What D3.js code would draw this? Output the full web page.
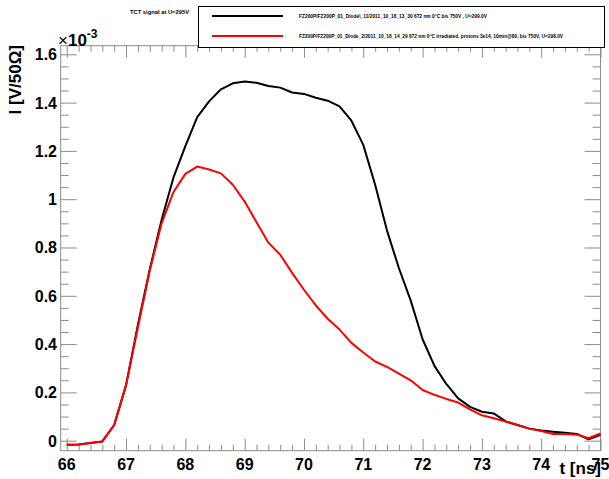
<!DOCTYPE html>
<html>
<head>
<meta charset="utf-8">
<script src="https://cdn.jsdelivr.net/npm/d3@7"></script>
<style>
  body { margin: 0; background: #fff; }
  text { font-family: "Liberation Sans", Arial, sans-serif; }
</style>
</head>
<body>
<svg id="chart" width="609" height="479"></svg>
<script>
// time axis [ns], one sample every 0.2 ns
const times = [66.0, 66.2, 66.4, 66.6, 66.8, 67.0, 67.2, 67.4, 67.6, 67.8,
  68.0, 68.2, 68.4, 68.6, 68.8, 69.0, 69.2, 69.4, 69.6, 69.8,
  70.0, 70.2, 70.4, 70.6, 70.8, 71.0, 71.2, 71.4, 71.6, 71.8,
  72.0, 72.2, 72.4, 72.6, 72.8, 73.0, 73.2, 73.4, 73.6, 73.8,
  74.0, 74.2, 74.4, 74.6, 74.8, 75.0];

// signal in units of 1e-3 V/50Ohm
const diode11 = [-0.017, -0.016, -0.010, -0.003, 0.065, 0.230, 0.480, 0.710, 0.915, 1.090,
  1.220, 1.340, 1.405, 1.455, 1.480, 1.487, 1.482, 1.469, 1.462, 1.442,
  1.436, 1.420, 1.408, 1.384, 1.325, 1.225, 1.060, 0.870, 0.715, 0.580,
  0.420, 0.310, 0.235, 0.175, 0.140, 0.120, 0.113, 0.080, 0.065, 0.050,
  0.042, 0.037, 0.033, 0.028, 0.006, 0.024];

const diode2 = [-0.017, -0.016, -0.010, -0.003, 0.065, 0.230, 0.470, 0.705, 0.900, 1.030,
  1.105, 1.135, 1.123, 1.107, 1.060, 0.990, 0.905, 0.820, 0.770, 0.695,
  0.625, 0.560, 0.505, 0.460, 0.405, 0.365, 0.328, 0.306, 0.278, 0.250,
  0.210, 0.190, 0.173, 0.158, 0.130, 0.105, 0.093, 0.079, 0.065, 0.050,
  0.040, 0.028, 0.028, 0.025, 0.010, 0.030];

const xTicks = [66, 67, 68, 69, 70, 71, 72, 73, 74, 75];
const yTicks = [0, 0.2, 0.4, 0.6, 0.8, 1, 1.2, 1.4, 1.6];

const series = [
  { name: "FZ200P/FZ200P_01_Diode\\_11/2011_10_18_13_30 672 nm 0\u00B0C bis 750V , U=299.0V",
    values: diode11, color: "#000" },
  { name: "FZ200P/FZ200P_01_Diode_2/2011_10_18_14_29 672 nm 0\u00B0C irradiated, protons 3e14, 10min@80, bis 750V, U=298.0V",
    values: diode2, color: "#ff0000" }
];

const frame = { left: 60.7, right: 600.5, top: 45.7, bottom: 450.7 };
const svg = d3.select("#chart");

const x = d3.scaleLinear().domain([65.898, 75.0]).range([frame.left, frame.right]);
const y = d3.scaleLinear().domain([-0.0414, 1.6356]).range([frame.bottom, frame.top]);

const axisColor = "#8c8c8c";
const fw = frame.right - frame.left, fh = frame.bottom - frame.top;
const xMajor = 12, yMajor = 16;

// frame
svg.append("rect")
  .attr("x", frame.left).attr("y", frame.top)
  .attr("width", fw).attr("height", fh)
  .attr("fill", "none").attr("stroke", axisColor).attr("stroke-width", 1);

const xMinor = d3.range(66, 75.001, 0.2).map(v => +v.toFixed(1)).filter(v => !xTicks.includes(v));
const yMinor = d3.range(0, 1.6001, 0.05).map(v => +v.toFixed(2)).filter(v => !yTicks.some(t => Math.abs(t - v) < 1e-6));

function tickAxis(axis, ticks, size, transform) {
  const g = svg.append("g").attr("transform", transform)
    .call(axis.tickValues(ticks).tickSize(size).tickFormat(""));
  g.select(".domain").remove();
  g.selectAll("line").attr("stroke", axisColor);
  return g;
}

// bottom / top ticks (pointing inward)
tickAxis(d3.axisTop(x), xTicks, xMajor, `translate(0,${frame.bottom})`);
tickAxis(d3.axisTop(x), xMinor, xMajor / 2, `translate(0,${frame.bottom})`);
tickAxis(d3.axisBottom(x), xTicks, xMajor, `translate(0,${frame.top})`);
tickAxis(d3.axisBottom(x), xMinor, xMajor / 2, `translate(0,${frame.top})`);
// left / right ticks
tickAxis(d3.axisRight(y), yTicks, yMajor, `translate(${frame.left},0)`);
tickAxis(d3.axisRight(y), yMinor, yMajor / 2, `translate(${frame.left},0)`);
tickAxis(d3.axisLeft(y), yTicks, yMajor, `translate(${frame.right},0)`);
tickAxis(d3.axisLeft(y), yMinor, yMajor / 2, `translate(${frame.right},0)`);

// tick labels
svg.append("g").selectAll("text").data(xTicks).join("text")
  .attr("x", d => x(d)).attr("y", 470)
  .attr("text-anchor", "middle")
  .attr("font-size", 16).attr("font-weight", "bold")
  .text(d => d);

svg.append("g").selectAll("text").data(yTicks).join("text")
  .attr("x", 57).attr("y", d => y(d) + 6)
  .attr("text-anchor", "end")
  .attr("font-size", 16).attr("font-weight", "bold")
  .text(d => d);

// exponent
const expo = svg.append("text").attr("x", 58).attr("y", 46)
  .attr("font-size", 17).attr("font-weight", "normal");
expo.append("tspan").text("\u00D7");
expo.append("tspan").attr("font-weight", "bold").text("10");
expo.append("tspan").attr("font-size", 12).attr("font-weight", "bold").attr("dy", -8).text("-3");

// axis titles
svg.append("text")
  .attr("transform", "translate(21,45) rotate(-90)")
  .attr("text-anchor", "end")
  .attr("font-size", 17).attr("font-weight", "bold")
  .text("I [V/50\u03A9]");

svg.append("text")
  .attr("x", 601).attr("y", 474)
  .attr("text-anchor", "end")
  .attr("font-size", 17).attr("font-weight", "bold")
  .text("t [ns]");

// curves
const line = d3.line()
  .x((d, i) => x(times[i]))
  .y(d => y(d));

svg.append("g").selectAll("path").data(series).join("path")
  .attr("d", d => line(d.values))
  .attr("fill", "none")
  .attr("stroke", d => d.color)
  .attr("stroke-width", 2)
  .attr("stroke-linejoin", "round");

// title
svg.append("text")
  .attr("x", 130).attr("y", 14)
  .attr("font-size", 5.5).attr("font-weight", "bold")
  .attr("textLength", 59).attr("lengthAdjust", "spacingAndGlyphs")
  .text("TCT signal at U=295V");

// legend
const legend = svg.append("g");
legend.append("rect")
  .attr("x", 198.5).attr("y", 6.5).attr("width", 406).attr("height", 41)
  .attr("fill", "#fff").attr("stroke", "#000").attr("stroke-width", 1);

const legendY = [16, 36];
const legendLen = [188, 264];
series.forEach((s, i) => {
  legend.append("line")
    .attr("x1", 212).attr("x2", 283)
    .attr("y1", legendY[i]).attr("y2", legendY[i])
    .attr("stroke", s.color).attr("stroke-width", 2);
  legend.append("text")
    .attr("x", 299).attr("y", legendY[i] + 2)
    .attr("font-size", 5).attr("font-weight", "bold")
    .attr("textLength", legendLen[i]).attr("lengthAdjust", "spacingAndGlyphs")
    .text(s.name);
});
</script>
</body>
</html>
